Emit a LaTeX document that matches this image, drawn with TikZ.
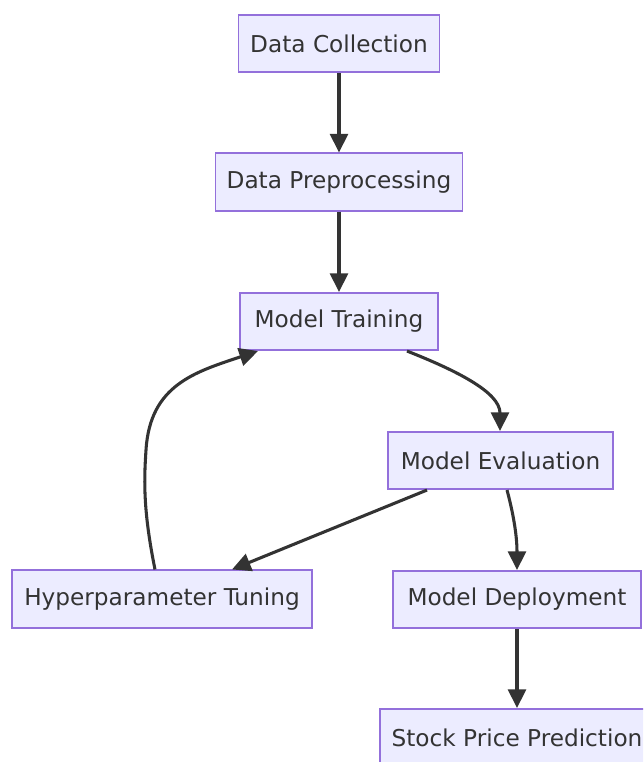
\documentclass[tikz,border=0pt]{standalone}
\usepackage{fontspec}
\setmainfont{DejaVu Sans}
\usetikzlibrary{arrows.meta,calc}
\definecolor{boxfill}{HTML}{ECECFF}
\definecolor{boxline}{HTML}{9370DB}
\definecolor{ink}{HTML}{333333}
\begin{document}
\begin{tikzpicture}[x=0.75pt,y=-0.75pt,
  stage/.style={draw=boxline, fill=boxfill, line width=1.3pt, text=ink,
    inner sep=0pt, minimum height=43pt, font=\fontsize{17.4}{20}\selectfont},
  flow/.style={draw=ink, line width=2.3pt, -{Triangle[length=14pt,width=13.5pt]}}]
  \useasboundingbox (0,0) rectangle (643,762);
  \clip (0,0) rectangle (643,762);

  % pipeline stages
  \node[stage, minimum width=150.75pt] (dc)  at (339,43.5)   {Data Collection};
  \node[stage, minimum width=185.25pt] (dp)  at (339,182)    {Data Preprocessing};
  \node[stage, minimum width=148.5pt]  (mt)  at (339,321.5)  {Model Training};
  \node[stage, minimum width=168.75pt] (me)  at (500.5,460.5) {Model Evaluation};
  \node[stage, minimum width=225pt]    (ht)  at (162,599)    {Hyperparameter Tuning};
  \node[stage, minimum width=186pt]    (md)  at (517,599.5)  {Model Deployment};
  \node[stage, minimum width=205.5pt]  (spp) at (517,737.5)  {Stock Price Prediction};

  % connectors
  \draw[flow] (dc.south) -- (dp.north);
  \draw[flow] (dp.south) -- (mt.north);
  \draw[flow] ($(mt.south)+(68,0)$) .. controls (455,370) and (500,392) .. ($(me.north)+(-0.5,0)$);
  \draw[flow] ($(me.south)+(-73.5,0)$) -- ($(ht.north)+(70,0)$);
  \draw[flow] ($(me.south)+(6.5,0)$) .. controls (515,520) and (517,540) .. (md.north);
  \draw[flow] ($(ht.north)+(-7,0)$) .. controls (143,510) and (144,480) .. (146,450)
              .. controls (150,385) and (195,372) .. ($(mt.south)+(-81,0)$);
  \draw[flow] (md.south) -- (spp.north);
\end{tikzpicture}
\end{document}
